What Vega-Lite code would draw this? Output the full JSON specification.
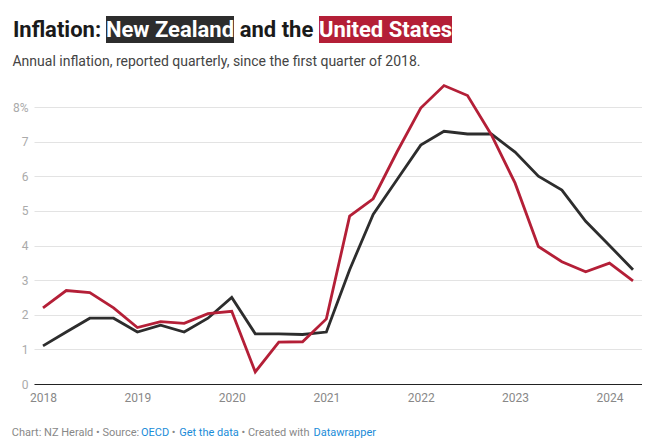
{
  "$schema": "https://vega.github.io/schema/vega-lite/v6.json",
  "padding": {"left": 11, "top": 16, "right": 0, "bottom": 0},
  "background": "white",
  "config": {"view": {"stroke": null}, "font": "Roboto"},
  "datasets": {
    "inflation": [
      {"date": "2018-01-01", "country": "New Zealand", "value": 1.1},
      {"date": "2018-04-01", "country": "New Zealand", "value": 1.5},
      {"date": "2018-07-01", "country": "New Zealand", "value": 1.9},
      {"date": "2018-10-01", "country": "New Zealand", "value": 1.9},
      {"date": "2019-01-01", "country": "New Zealand", "value": 1.5},
      {"date": "2019-04-01", "country": "New Zealand", "value": 1.7},
      {"date": "2019-07-01", "country": "New Zealand", "value": 1.5},
      {"date": "2019-10-01", "country": "New Zealand", "value": 1.9},
      {"date": "2020-01-01", "country": "New Zealand", "value": 2.5},
      {"date": "2020-04-01", "country": "New Zealand", "value": 1.45},
      {"date": "2020-07-01", "country": "New Zealand", "value": 1.45},
      {"date": "2020-10-01", "country": "New Zealand", "value": 1.43},
      {"date": "2021-01-01", "country": "New Zealand", "value": 1.5},
      {"date": "2021-04-01", "country": "New Zealand", "value": 3.3},
      {"date": "2021-07-01", "country": "New Zealand", "value": 4.9},
      {"date": "2021-10-01", "country": "New Zealand", "value": 5.9},
      {"date": "2022-01-01", "country": "New Zealand", "value": 6.9},
      {"date": "2022-04-01", "country": "New Zealand", "value": 7.3},
      {"date": "2022-07-01", "country": "New Zealand", "value": 7.22},
      {"date": "2022-10-01", "country": "New Zealand", "value": 7.22},
      {"date": "2023-01-01", "country": "New Zealand", "value": 6.7},
      {"date": "2023-04-01", "country": "New Zealand", "value": 6.0},
      {"date": "2023-07-01", "country": "New Zealand", "value": 5.6},
      {"date": "2023-10-01", "country": "New Zealand", "value": 4.7},
      {"date": "2024-01-01", "country": "New Zealand", "value": 4.0},
      {"date": "2024-04-01", "country": "New Zealand", "value": 3.3},
      {"date": "2018-01-01", "country": "United States", "value": 2.2},
      {"date": "2018-04-01", "country": "United States", "value": 2.7},
      {"date": "2018-07-01", "country": "United States", "value": 2.64},
      {"date": "2018-10-01", "country": "United States", "value": 2.2},
      {"date": "2019-01-01", "country": "United States", "value": 1.63},
      {"date": "2019-04-01", "country": "United States", "value": 1.8},
      {"date": "2019-07-01", "country": "United States", "value": 1.75},
      {"date": "2019-10-01", "country": "United States", "value": 2.03},
      {"date": "2020-01-01", "country": "United States", "value": 2.1},
      {"date": "2020-04-01", "country": "United States", "value": 0.35},
      {"date": "2020-07-01", "country": "United States", "value": 1.21},
      {"date": "2020-10-01", "country": "United States", "value": 1.22},
      {"date": "2021-01-01", "country": "United States", "value": 1.88},
      {"date": "2021-04-01", "country": "United States", "value": 4.85},
      {"date": "2021-07-01", "country": "United States", "value": 5.35},
      {"date": "2021-10-01", "country": "United States", "value": 6.7},
      {"date": "2022-01-01", "country": "United States", "value": 7.97},
      {"date": "2022-04-01", "country": "United States", "value": 8.62},
      {"date": "2022-07-01", "country": "United States", "value": 8.33},
      {"date": "2022-10-01", "country": "United States", "value": 7.2},
      {"date": "2023-01-01", "country": "United States", "value": 5.8},
      {"date": "2023-04-01", "country": "United States", "value": 3.97},
      {"date": "2023-07-01", "country": "United States", "value": 3.53},
      {"date": "2023-10-01", "country": "United States", "value": 3.24},
      {"date": "2024-01-01", "country": "United States", "value": 3.49},
      {"date": "2024-04-01", "country": "United States", "value": 2.98}
    ]
  },
  "spacing": 12,
  "vconcat": [
    {
      "spacing": 0,
      "bounds": "flush",
      "hconcat": [
        {
          "width": 72, "height": 27,
          "data": {"values": [{"t": "Inflation:"}]},
          "mark": {"type": "text", "font": "Roboto", "fontSize": 22, "fontWeight": "bold", "color": "#1a1a1a", "dx": -13},
          "encoding": {"text": {"field": "t", "type": "nominal"}}
        },
        {
          "width": 128, "height": 27,
          "view": {"fill": "#2d2d2d", "stroke": null},
          "data": {"values": [{"t": "New Zealand"}]},
          "mark": {"type": "text", "font": "Roboto", "fontSize": 22, "fontWeight": "bold", "color": "#ffffff"},
          "encoding": {"text": {"field": "t", "type": "nominal"}}
        },
        {
          "width": 85, "height": 27,
          "data": {"values": [{"t": "and the"}]},
          "mark": {"type": "text", "font": "Roboto", "fontSize": 22, "fontWeight": "bold", "color": "#1a1a1a"},
          "encoding": {"text": {"field": "t", "type": "nominal"}}
        },
        {
          "width": 133, "height": 27,
          "view": {"fill": "#b41f37", "stroke": null},
          "data": {"values": [{"t": "United States"}]},
          "mark": {"type": "text", "font": "Roboto", "fontSize": 22, "fontWeight": "bold", "color": "#ffffff"},
          "encoding": {"text": {"field": "t", "type": "nominal"}}
        }
      ]
    },
    {
      "width": 608,
      "height": 277,
      "title": {
        "text": "Annual inflation, reported quarterly, since the first quarter of 2018.",
        "anchor": "start", "frame": "bounds", "font": "Roboto", "fontSize": 14,
        "fontWeight": "normal", "color": "#444444", "offset": 10.5
      },
      "data": {"name": "inflation"},
      "mark": {"type": "line", "strokeWidth": 2.8, "strokeJoin": "miter"},
      "encoding": {
        "x": {
          "field": "date", "type": "temporal",
          "scale": {"padding": 9, "nice": false},
          "axis": {
            "title": null, "format": "%Y", "tickCount": {"interval": "year", "step": 1},
            "grid": false, "ticks": false, "tickSize": 0, "domainColor": "#222222", "domainWidth": 1,
            "labelFont": "Roboto", "labelFontSize": 12, "labelColor": "#888888", "labelPadding": 8,
            "labelFlush": false
          }
        },
        "y": {
          "field": "value", "type": "quantitative",
          "scale": {"domain": [0, 8], "nice": false},
          "axis": {
            "title": null, "values": [0, 1, 2, 3, 4, 5, 6, 7, 8],
            "labelExpr": "datum.value == 8 ? '8%' : datum.label",
            "domain": false, "ticks": false, "tickSize": 0, "labelPadding": 6,
            "grid": true, "gridColor": "#e3e3e3", "gridWidth": 1,
            "labelFont": "Roboto", "labelFontSize": 12, "labelColor": "#aaaaaa"
          }
        },
        "color": {
          "field": "country", "type": "nominal",
          "scale": {"domain": ["New Zealand", "United States"], "range": ["#2d2d2d", "#b41f37"]},
          "legend": null
        }
      }
    },
    {
      "spacing": 0,
      "bounds": "flush",
      "hconcat": [
        {
          "width": 106.5, "height": 36,
          "data": {"values": [{"t": "Chart: NZ Herald • Source:"}]},
          "mark": {"type": "text", "font": "Roboto", "fontSize": 11, "color": "#888888", "dx": -11.75},
          "encoding": {"text": {"field": "t", "type": "nominal"}}
        },
        {
          "width": 28, "height": 36,
          "data": {"values": [{"t": "OECD"}]},
          "mark": {"type": "text", "font": "Roboto", "fontSize": 11, "color": "#1a8cd8"},
          "encoding": {"text": {"field": "t", "type": "nominal"}}
        },
        {
          "width": 9, "height": 36,
          "data": {"values": [{"t": "•"}]},
          "mark": {"type": "text", "font": "Roboto", "fontSize": 11, "color": "#888888"},
          "encoding": {"text": {"field": "t", "type": "nominal"}}
        },
        {
          "width": 62, "height": 36,
          "data": {"values": [{"t": "Get the data"}]},
          "mark": {"type": "text", "font": "Roboto", "fontSize": 11, "color": "#1a8cd8"},
          "encoding": {"text": {"field": "t", "type": "nominal"}}
        },
        {
          "width": 71, "height": 36,
          "data": {"values": [{"t": "• Created with"}]},
          "mark": {"type": "text", "font": "Roboto", "fontSize": 11, "color": "#888888"},
          "encoding": {"text": {"field": "t", "type": "nominal"}}
        },
        {
          "width": 67.5, "height": 36,
          "data": {"values": [{"t": "Datawrapper"}]},
          "mark": {"type": "text", "font": "Roboto", "fontSize": 11, "color": "#1a8cd8"},
          "encoding": {"text": {"field": "t", "type": "nominal"}}
        }
      ]
    }
  ]
}
